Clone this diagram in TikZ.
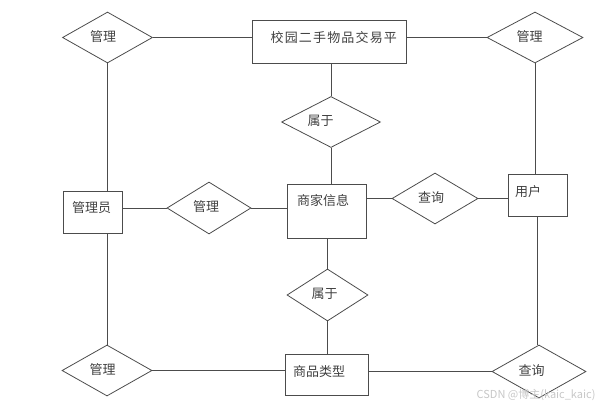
\documentclass[tikz,border=0pt]{standalone}
\usepackage{fontspec}
\setmainfont{Noto Sans CJK SC}
\newfontfamily\widefont[LetterSpace=9]{Noto Sans CJK SC}
\usetikzlibrary{shapes.geometric}
\begin{document}
\begin{tikzpicture}[x=1pt,y=-1pt,
    every node/.style={font=\fontsize{13}{15}\selectfont,text=black!75},
    ent/.style={rectangle,draw=black!70,line width=.8pt,inner sep=0pt,
      text height=9pt,text depth=2pt,align=left},
    rel/.style={diamond,draw=black!70,line width=.8pt,inner sep=0pt,aspect=2,
      text height=9pt,text depth=2pt,align=left,text width=35pt}]
      \useasboundingbox (0,0) rectangle (600,405);
      \draw
        (107.5,37.5) node[rel,minimum width=90pt,minimum height=51pt] (mgTL){管理}
        (329,41.5) node[ent,minimum width=154pt,minimum height=43pt,text width=136pt,
          align=right,text depth=7pt,font=\widefont\fontsize{13}{15}\selectfont] (plat){校园二手物品交易平}
        (535,37.5) node[rel,minimum width=96pt,minimum height=51pt,text width=37pt] (mgTR){管理}
        (331,122) node[rel,minimum width=99pt,minimum height=51pt,text width=47pt] (ownT){属于}
        (92.5,212) node[ent,minimum width=59pt,minimum height=42pt,text width=41pt,text depth=8pt] (admin){管理员}
        (209,208) node[rel,minimum width=84pt,minimum height=52pt,text width=32pt] (mgM){管理}
        (326.5,211) node[ent,minimum width=79pt,minimum height=54pt,text width=59pt,text depth=20pt] (shop){商家信息}
        (435,198.5) node[rel,minimum width=86pt,minimum height=51pt,text width=34pt] (qryM){查询}
        (537.5,195) node[ent,minimum width=59pt,minimum height=42pt,text width=45pt,text depth=6pt] (user){用户}
        (327.5,295) node[rel,minimum width=81pt,minimum height=52pt,text width=32pt] (ownB){属于}
        (107,370.5) node[rel,minimum width=90pt,minimum height=51pt] (mgBL){管理}
        (326.5,374.5) node[ent,minimum width=83pt,minimum height=41pt,text width=67pt,text depth=5pt] (goods){商品类型}
        (539,371.5) node[rel,minimum width=94pt,minimum height=53pt,text width=41pt] (qryBR){查询}
        (599,394.5) node[anchor=east,font=\fontsize{11}{12}\selectfont,text=black!22] (mark){CSDN @博主(kaic\_kaic)};
      \begin{scope}[-,draw=black!70,line width=.8pt]
        \draw (mgTL.east) to (mgTL.east -| plat.west);
        \draw (mgTR.west -| plat.east) to (mgTR.west);
        \draw (mgTL.south) to (mgTL.south |- admin.north);
        \draw (mgTR.south) to (mgTR.south |- user.north);
        \draw (ownT.north |- plat.south) to (ownT.north);
        \draw (ownT.south) to (ownT.south |- shop.north);
        \draw (mgM.west -| admin.east) to (mgM.west);
        \draw (mgM.east) to (mgM.east -| shop.west);
        \draw (qryM.west -| shop.east) to (qryM.west);
        \draw (qryM.east) to (qryM.east -| user.west);
        \draw (mgBL.north |- admin.south) to (mgBL.north);
        \draw (ownB.north |- shop.south) to (ownB.north);
        \draw (ownB.south) to (ownB.south |- goods.north);
        \draw (user.south) to (user.south |- qryBR.north);
        \draw (mgBL.east) to (mgBL.east -| goods.west);
        \draw (qryBR.west -| goods.east) to (qryBR.west);
      \end{scope}
    \end{tikzpicture}
\end{document}
